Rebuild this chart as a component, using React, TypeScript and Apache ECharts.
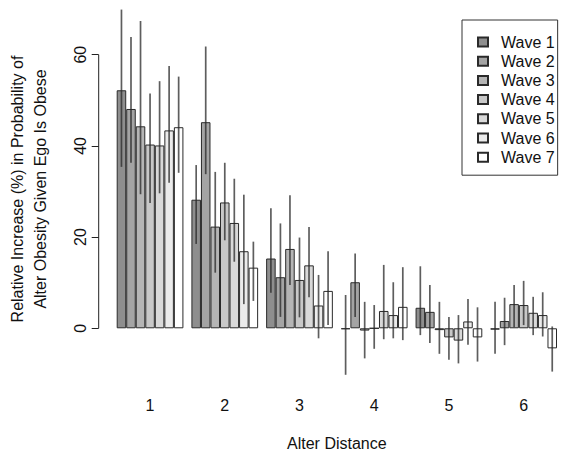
import React, { useEffect, useRef } from "react";
import * as echarts from "echarts";

const distances = ["1", "2", "3", "4", "5", "6"];
const waveNames = ["Wave 1", "Wave 2", "Wave 3", "Wave 4", "Wave 5", "Wave 6", "Wave 7"];
const waveColors = ["#8e8e8e", "#a4a4a4", "#b5b5b5", "#c8c8c8", "#d9d9d9", "#ebebeb", "#ffffff"];
const yTicks = [0, 20, 40, 60];

const wave1 = [52.2, 28.2, 15.3, -0.2, 4.5, -0.3];
const wave1Low = [35.4, 18.5, 7.8, -10.2, -1.5, -5.6];
const wave1High = [69.9, 35.8, 26.3, 7.3, 13.6, 5.8];
const wave2 = [48.1, 45.2, 11.2, 10.1, 3.6, 1.6];
const wave2Low = [36.3, 33.8, 2.5, 2.5, -3.2, -3.7];
const wave2High = [63.9, 61.8, 23.0, 16.4, 9.5, 6.7];
const wave3 = [44.3, 22.3, 17.4, -0.5, -0.4, 5.3];
const wave3Low = [29.4, 12.2, 9.5, -6.6, -5.6, 0.2];
const wave3High = [67.4, 34.3, 29.2, 5.8, 5.8, 9.5];
const wave4 = [40.3, 27.6, 10.6, 0.0, -2.0, 5.1];
const wave4Low = [27.5, 19.3, 2.4, -4.5, -6.9, 0.7];
const wave4High = [51.5, 36.3, 19.9, 5.1, 2.5, 10.4];
const wave5 = [40.1, 23.1, 13.8, 3.8, -2.7, 3.4];
const wave5Low = [29.6, 14.6, 6.8, -2.4, -7.7, -1.5];
const wave5High = [54.2, 32.8, 22.2, 13.9, 2.9, 6.9];
const wave6 = [43.4, 16.9, 5.0, 2.9, 1.5, 2.9];
const wave6Low = [31.9, 5.3, -2.2, -2.2, -3.6, -1.8];
const wave6High = [57.5, 29.3, 11.7, 10.1, 6.4, 7.9];
const wave7 = [44.1, 13.3, 8.2, 4.7, -2.0, -4.4];
const wave7Low = [34.1, 6.0, 0.7, -2.6, -7.3, -9.5];
const wave7High = [55.2, 19.0, 16.9, 13.4, 4.6, 0.4];

const waveValues = [wave1, wave2, wave3, wave4, wave5, wave6, wave7];
const waveLows = [wave1Low, wave2Low, wave3Low, wave4Low, wave5Low, wave6Low, wave7Low];
const waveHighs = [wave1High, wave2High, wave3High, wave4High, wave5High, wave6High, wave7High];

const CAT_GAP = 0.107;
const FONT = "Liberation Sans, Arial, sans-serif";
const AXIS_OFFSET = 14;

export default function App() {
  const ref = useRef<HTMLDivElement>(null);
  useEffect(() => {
    if (!ref.current) return;
    const chart = echarts.init(ref.current, undefined, { renderer: "svg" });

    const errData: number[][] = [];
    waveValues.forEach((_, w) => {
      distances.forEach((_, c) => {
        errData.push([c, w, waveLows[w][c], waveHighs[w][c]]);
      });
    });

    const barSeries = waveNames.map((name, w) => ({
      type: "bar",
      name,
      data: waveValues[w],
      barGap: "0%",
      barCategoryGap: CAT_GAP * 100 + "%",
      itemStyle: { color: waveColors[w], borderColor: "#2a2a2a", borderWidth: 1 },
      emphasis: { disabled: true },
    }));

    const option = {
      animation: false,
      textStyle: { fontFamily: FONT },
      grid: { left: 112.7, right: 0, top: 0, bottom: 67, containLabel: false, outerBoundsMode: "none" },
      legend: {
        data: waveNames,
        orient: "vertical",
        left: 462,
        top: 20,
        padding: [14, 3, 10, 15],
        itemWidth: 10,
        itemHeight: 9,
        itemGap: 3.2,
        icon: "rect",
        borderColor: "#333",
        borderWidth: 1,
        backgroundColor: "#fff",
        selectedMode: false,
        textStyle: { fontSize: 16, color: "#111", fontFamily: FONT, lineHeight: 16, padding: [0, 0, 0, 8] },
      },
      xAxis: {
        type: "category",
        data: distances,
        axisLine: { show: false },
        axisTick: { show: false },
        axisLabel: { fontSize: 16, color: "#111", margin: 14, fontFamily: FONT },
        name: "Alter Distance",
        nameLocation: "middle",
        nameGap: 52,
        nameTextStyle: { fontSize: 16, color: "#111", fontFamily: FONT },
      },
      yAxis: {
        type: "value",
        min: -12,
        max: 72,
        offset: AXIS_OFFSET,
        splitLine: { show: false },
        axisLine: { show: false },
        axisTick: { show: true, length: 7, customValues: yTicks, lineStyle: { color: "#222" } },
        axisLabel: { customValues: yTicks, rotate: 90, margin: 10, fontSize: 16, color: "#111", fontFamily: FONT },
      },
      graphic: [
        {
          type: "text",
          x: 28.5,
          y: 189,
          rotation: Math.PI / 2,
          style: {
            text: "Relative Increase (%) in Probability of\nAlter Obesity Given Ego Is Obese",
            fontSize: 16,
            lineHeight: 23,
            fontFamily: FONT,
            fill: "#111",
            align: "center",
            verticalAlign: "middle",
          },
        },
      ],
      series: [
        ...barSeries,
        {
          type: "custom",
          name: "errors",
          data: errData,
          encode: { x: 0, y: [2, 3] },
          z: 5,
          silent: true,
          renderItem: (params: any, api: any) => {
            const cat = api.value(0);
            const w = api.value(1);
            const lo = api.value(2);
            const hi = api.value(3);
            const c = api.coord([cat, 0]);
            const band = api.size([1, 0])[0];
            const gw = band * (1 - CAT_GAP);
            const bw = gw / 7;
            const x = c[0] - gw / 2 + bw * (w + 0.5);
            const y1 = api.coord([cat, lo])[1];
            const y2 = api.coord([cat, hi])[1];
            return {
              type: "line",
              shape: { x1: x, y1, x2: x, y2 },
              style: { stroke: "rgba(40,40,40,0.75)", lineWidth: 1.7 },
            };
          },
        },
        {
          type: "custom",
          name: "yaxisline",
          data: [[0, yTicks[0], yTicks[yTicks.length - 1]]],
          encode: { x: 0, y: [1, 2] },
          silent: true,
          renderItem: (params: any, api: any) => {
            const x = params.coordSys.x - AXIS_OFFSET;
            const y1 = api.coord([0, api.value(1)])[1];
            const y2 = api.coord([0, api.value(2)])[1];
            return {
              type: "line",
              shape: { x1: x, y1, x2: x, y2 },
              style: { stroke: "#222", lineWidth: 1 },
            };
          },
        },
      ],
    };
    chart.setOption(option as any);
    return () => chart.dispose();
  }, []);
  return (
    <div
      ref={ref}
      style={{ position: "absolute", left: 0, top: 0, width: 561, height: 450, background: "#fff" }}
    />
  );
}
